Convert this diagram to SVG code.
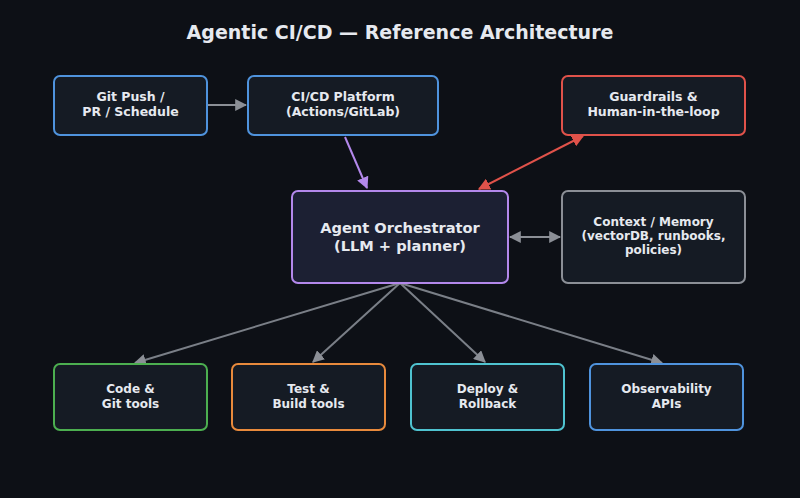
<svg xmlns="http://www.w3.org/2000/svg" width="800" height="498" viewBox="0 0 800 498">
<defs>
<style>
.bg{fill:#0d1016}
.box{fill:#151b24;stroke-width:2}
.t{font-family:"DejaVu Sans","Liberation Sans",sans-serif;font-weight:bold;fill:#e6e9ef;text-anchor:middle}
.c{stroke-width:2;fill:none}
</style>
<marker id="ag" viewBox="0 0 10 10" refX="9" refY="5" markerWidth="6" markerHeight="6" orient="auto-start-reverse"><path d="M0,0L10,5L0,10z" fill="#8b8f96"/></marker>
<marker id="ap" viewBox="0 0 10 10" refX="9" refY="5" markerWidth="6" markerHeight="6" orient="auto-start-reverse"><path d="M0,0L10,5L0,10z" fill="#b388eb"/></marker>
<marker id="ar" viewBox="0 0 10 10" refX="9" refY="5" markerWidth="6" markerHeight="6" orient="auto-start-reverse"><path d="M0,0L10,5L0,10z" fill="#e0524a"/></marker>
</defs>
<rect class="bg" x="0" y="0" width="800" height="498"/>
<text class="t" x="400" y="39" font-size="19">Agentic CI/CD — Reference Architecture</text>
<g id="connectors">
<line class="c" x1="207" y1="105" x2="246" y2="105" stroke="#8b8f96" marker-end="url(#ag)"/>
<line class="c" x1="345" y1="137" x2="367" y2="188" stroke="#b388eb" marker-end="url(#ap)"/>
<line class="c" x1="479" y1="189" x2="583" y2="136" stroke="#e0524a" marker-start="url(#ar)" marker-end="url(#ar)"/>
<line class="c" x1="510" y1="237" x2="560" y2="237" stroke="#8b8f96" marker-start="url(#ag)" marker-end="url(#ag)"/>
<line class="c" x1="400" y1="283" x2="135" y2="363" stroke="#7a7f87" marker-end="url(#ag)"/>
<line class="c" x1="400" y1="283" x2="313" y2="362" stroke="#7a7f87" marker-end="url(#ag)"/>
<line class="c" x1="400" y1="283" x2="485" y2="362" stroke="#7a7f87" marker-end="url(#ag)"/>
<line class="c" x1="400" y1="283" x2="662" y2="363" stroke="#7a7f87" marker-end="url(#ag)"/>
</g>
<g id="git-push">
<rect class="box" x="54" y="76" width="153" height="59" rx="6" stroke="#4f93dd"/>
<text class="t" x="130.5" y="101" font-size="12.5">Git Push /</text>
<text class="t" x="130.5" y="116" font-size="12.5">PR / Schedule</text>
</g>
<g id="cicd">
<rect class="box" x="248" y="76" width="190" height="59" rx="6" stroke="#4f93dd"/>
<text class="t" x="343" y="101" font-size="12.5">CI/CD Platform</text>
<text class="t" x="343" y="116" font-size="12.5">(Actions/GitLab)</text>
</g>
<g id="guardrails">
<rect class="box" x="562" y="76" width="183" height="59" rx="6" stroke="#e0524a"/>
<text class="t" x="653.5" y="101" font-size="12.5">Guardrails &amp;</text>
<text class="t" x="653.5" y="116" font-size="12.5">Human-in-the-loop</text>
</g>
<g id="orchestrator">
<rect x="292" y="191" width="216" height="92" rx="6" fill="#1c2033" stroke="#b388eb" stroke-width="2"/>
<text class="t" x="400" y="233" font-size="14.6">Agent Orchestrator</text>
<text class="t" x="400" y="251" font-size="14.6">(LLM + planner)</text>
</g>
<g id="context">
<rect class="box" x="562" y="191" width="183" height="92" rx="6" stroke="#8b8f96"/>
<text class="t" x="653.5" y="226" font-size="12">Context / Memory</text>
<text class="t" x="653.5" y="240" font-size="12">(vectorDB, runbooks,</text>
<text class="t" x="653.5" y="254" font-size="12">policies)</text>
</g>
<g id="code">
<rect class="box" x="54" y="364" width="153" height="66" rx="6" stroke="#4caf50"/>
<text class="t" x="130.5" y="393" font-size="12">Code &amp;</text>
<text class="t" x="130.5" y="408" font-size="12">Git tools</text>
</g>
<g id="test">
<rect class="box" x="232" y="364" width="153" height="66" rx="6" stroke="#e88a3c"/>
<text class="t" x="308.5" y="393" font-size="12">Test &amp;</text>
<text class="t" x="308.5" y="408" font-size="12">Build tools</text>
</g>
<g id="deploy">
<rect class="box" x="411" y="364" width="153" height="66" rx="6" stroke="#4fc3d0"/>
<text class="t" x="487.5" y="393" font-size="12">Deploy &amp;</text>
<text class="t" x="487.5" y="408" font-size="12">Rollback</text>
</g>
<g id="observability">
<rect class="box" x="590" y="364" width="153" height="66" rx="6" stroke="#4f93dd"/>
<text class="t" x="666.5" y="393" font-size="12">Observability</text>
<text class="t" x="666.5" y="408" font-size="12">APIs</text>
</g>
</svg>
